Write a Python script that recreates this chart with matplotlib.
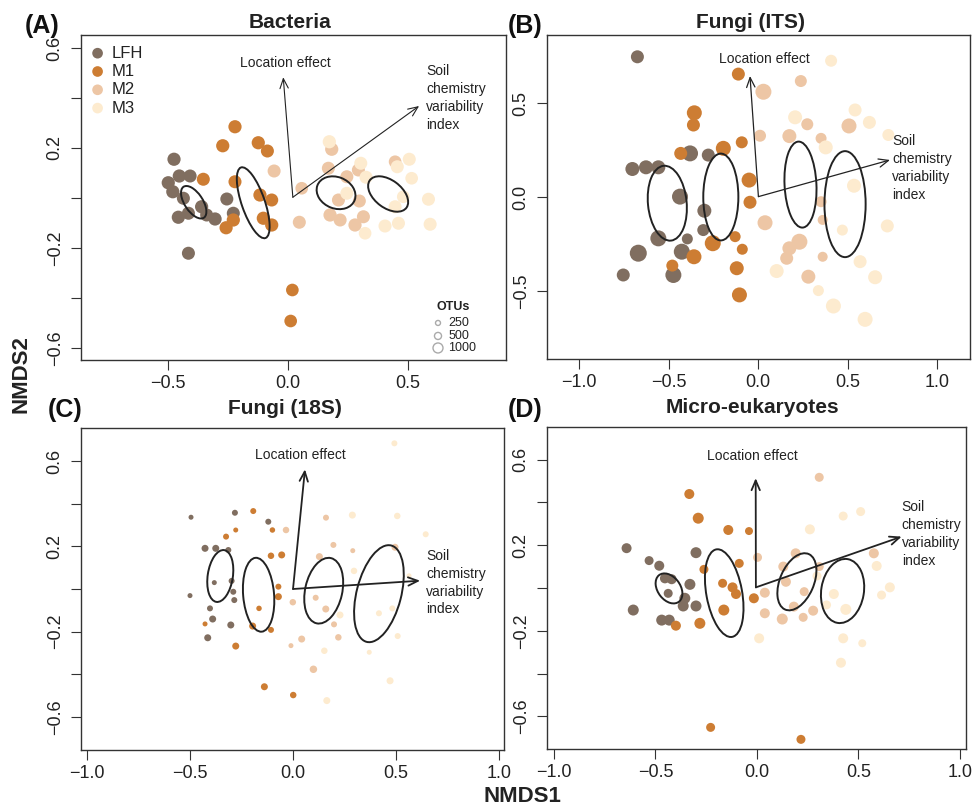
import matplotlib
matplotlib.use("Agg")
import matplotlib.pyplot as plt
from matplotlib.patches import Ellipse
import numpy as np

plt.rcParams['font.family'] = ['Liberation Sans', 'DejaVu Sans']

GROUPS = ["LFH", "M1", "M2", "M3"]
COLORS = ["#806e60", "#cd7d33", "#edc6a5", "#fdebcf"]

# samples: (NMDS1, NMDS2, OTU richness)
BAC_LFH = [(-0.475, 0.155, 1750), (-0.453, 0.088, 1750), (-0.408, 0.088, 1700), (-0.499, 0.061, 1750),
           (-0.480, 0.025, 1750), (-0.436, -0.001, 1700), (-0.360, -0.035, 1750), (-0.457, -0.077, 1750),
           (-0.415, -0.061, 1700), (-0.339, -0.068, 1700), (-0.304, -0.084, 1750), (-0.255, -0.004, 1700),
           (-0.228, -0.061, 1700), (-0.415, -0.221, 1700)]
BAC_M1 = [(-0.221, 0.285, 1750), (-0.272, 0.209, 1750), (-0.124, 0.221, 1750), (-0.086, 0.188, 1700),
          (-0.353, 0.075, 1700), (-0.221, 0.065, 1700), (-0.117, 0.012, 1750), (-0.068, -0.008, 1700),
          (-0.228, -0.088, 1750), (-0.258, -0.119, 1750), (-0.103, -0.081, 1750), (-0.068, -0.108, 1750),
          (0.018, -0.368, 1600), (0.011, -0.492, 1600)]
BAC_M2 = [(-0.058, 0.108, 1700), (0.057, 0.039, 1600), (0.047, -0.097, 1700), (0.182, 0.195, 1750),
          (0.168, 0.119, 1700), (0.245, 0.085, 1700), (0.293, 0.112, 1700), (0.210, -0.008, 1700),
          (0.175, -0.068, 1750), (0.217, -0.088, 1700), (0.297, -0.012, 1700), (0.314, -0.075, 1700),
          (0.279, -0.108, 1750), (0.446, 0.145, 1600)]
BAC_M3 = [(0.172, 0.225, 1750), (0.303, 0.139, 1700), (0.245, 0.019, 1700), (0.325, 0.083, 1700),
          (0.321, -0.141, 1600), (0.404, -0.112, 1700), (0.455, 0.125, 1700), (0.505, 0.155, 1700),
          (0.515, 0.079, 1600), (0.446, -0.035, 1700), (0.460, -0.101, 1700), (0.480, 0.005, 1600),
          (0.585, -0.005, 1700), (0.592, -0.105, 1700)]

FITS_LFH = [(-0.674, 0.746, 1690), (-0.702, 0.149, 1960), (-0.626, 0.158, 1960), (-0.557, 0.158, 1960),
            (-0.380, 0.232, 2560), (-0.278, 0.223, 1690), (-0.436, 0.002, 2560), (-0.300, -0.073, 1960),
            (-0.306, -0.176, 1440), (-0.557, -0.220, 2560), (-0.395, -0.223, 1210), (-0.426, -0.291, 2560),
            (-0.669, -0.299, 2890), (-0.753, -0.415, 1690), (-0.473, -0.415, 2560)]
FITS_M1 = [(-0.110, 0.654, 1690), (-0.356, 0.448, 2250), (-0.361, 0.383, 1690), (-0.432, 0.232, 1690),
           (-0.194, 0.259, 2250), (-0.091, 0.291, 1440), (-0.050, 0.090, 2250), (-0.045, -0.028, 1690),
           (-0.253, -0.246, 2560), (-0.128, -0.211, 1210), (-0.088, -0.278, 1210), (-0.358, -0.318, 2250),
           (-0.479, -0.365, 1440), (-0.119, -0.379, 1960), (-0.104, -0.521, 2250)]
FITS_M2 = [(0.030, 0.560, 2560), (0.239, 0.617, 1440), (0.011, 0.326, 1440), (0.175, 0.324, 1960),
           (0.275, 0.387, 1440), (0.352, 0.312, 1210), (0.508, 0.378, 2250), (0.039, -0.137, 2250),
           (0.231, -0.238, 2560), (0.175, -0.273, 1960), (0.160, -0.326, 1690), (0.281, -0.424, 1960),
           (0.361, -0.318, 1000), (0.352, -0.025, 1210), (0.361, -0.122, 1000)]
FITS_M3 = [(0.408, 0.725, 1440), (0.207, 0.424, 1960), (0.542, 0.463, 1690), (0.622, 0.397, 1690),
           (0.728, 0.330, 1440), (0.378, 0.264, 1960), (0.536, 0.060, 1960), (0.471, -0.176, 1210),
           (0.722, -0.154, 1690), (0.570, -0.344, 1690), (0.654, -0.427, 1960), (0.337, -0.498, 1210),
           (0.421, -0.580, 2250), (0.598, -0.651, 2250), (0.104, -0.394, 1960)]

F18_LFH = [(-0.495, 0.337, 250), (-0.282, 0.358, 360), (-0.120, 0.316, 360), (-0.427, 0.191, 490),
           (-0.375, 0.191, 490), (-0.314, 0.183, 360), (-0.382, 0.030, 250), (-0.298, 0.038, 360),
           (-0.290, -0.013, 360), (-0.285, -0.052, 360), (-0.500, -0.031, 250), (-0.403, -0.091, 360),
           (-0.390, -0.141, 490), (-0.302, -0.169, 490), (-0.414, -0.229, 490)]
F18_M1 = [(-0.193, 0.366, 360), (-0.278, 0.277, 250), (-0.325, 0.246, 360), (-0.100, 0.277, 300),
          (-0.107, 0.156, 420), (-0.055, 0.160, 490), (-0.071, 0.011, 360), (-0.071, -0.036, 490),
          (-0.165, -0.091, 300), (-0.427, -0.164, 250), (-0.196, -0.174, 490), (-0.107, -0.192, 360),
          (-0.278, -0.268, 490), (-0.139, -0.459, 490), (0.001, -0.498, 420)]
F18_M2 = [(-0.034, 0.277, 420), (0.160, 0.335, 360), (0.196, 0.207, 360), (0.290, 0.180, 250),
          (0.128, 0.152, 490), (0.495, 0.196, 490), (-0.001, -0.062, 420), (0.110, -0.041, 360),
          (0.159, -0.094, 490), (0.199, -0.166, 360), (0.220, -0.227, 420), (0.042, -0.235, 490),
          (-0.010, -0.266, 250), (0.099, -0.377, 560)]
F18_M3 = [(0.492, 0.684, 360), (0.288, 0.347, 490), (0.506, 0.343, 420), (0.644, 0.257, 360),
          (0.296, 0.085, 420), (0.563, 0.062, 250), (0.228, -0.122, 490), (0.417, -0.114, 360),
          (0.482, -0.091, 360), (0.508, -0.221, 360), (0.152, -0.290, 420), (0.370, -0.297, 250),
          (0.471, -0.431, 490), (0.164, -0.524, 490)]

EUK_LFH = [(-0.642, 0.186, 1000), (-0.531, 0.128, 810), (-0.481, 0.104, 1000), (-0.300, 0.165, 1210),
           (-0.453, 0.045, 1000), (-0.420, 0.041, 1000), (-0.437, -0.025, 810), (-0.330, 0.017, 1210),
           (-0.355, -0.048, 1210), (-0.363, -0.084, 1210), (-0.300, -0.084, 1210), (-0.609, -0.103, 1210),
           (-0.469, -0.150, 1210), (-0.432, -0.150, 1210)]
EUK_M1 = [(-0.333, 0.439, 1000), (-0.289, 0.326, 1210), (-0.141, 0.271, 1000), (-0.039, 0.266, 640),
          (-0.261, 0.087, 810), (-0.087, 0.115, 810), (-0.169, 0.022, 810), (-0.120, 0.003, 1000),
          (-0.103, -0.028, 1000), (-0.015, -0.048, 1000), (-0.163, -0.103, 1210), (-0.281, -0.165, 1210),
          (-0.399, -0.176, 1000), (-0.228, -0.651, 810), (0.217, -0.707, 810)]
EUK_M2 = [(0.307, 0.517, 810), (0.576, 0.162, 1000), (0.003, 0.143, 810), (0.191, 0.162, 1000),
          (0.130, 0.100, 1000), (0.307, 0.100, 810), (0.143, 0.029, 1000), (0.039, -0.022, 1000),
          (0.233, -0.017, 810), (0.182, -0.087, 1000), (0.277, -0.106, 1000), (0.039, -0.118, 1000),
          (0.125, -0.145, 1210), (0.228, -0.137, 810)]
EUK_M3 = [(0.425, 0.336, 810), (0.511, 0.357, 810), (0.261, 0.274, 1000), (0.590, 0.103, 1000),
          (0.655, 0.003, 1000), (0.614, -0.033, 810), (0.379, -0.028, 1000), (0.343, -0.079, 810),
          (0.438, -0.100, 1210), (0.011, -0.235, 1000), (0.425, -0.235, 1000), (0.519, -0.258, 640),
          (0.414, -0.349, 1000), (0.296, 0.056, 810)]

# group ellipses: (centre x, centre y, semi-major, semi-minor, angle deg)
BAC_ELLIPSES = [(-0.393, -0.017, 0.075, 0.0375, -55), (-0.145, -0.019, 0.150, 0.048, 110),
                (0.200, 0.021, 0.083, 0.063, -20), (0.417, 0.016, 0.094, 0.056, -35)]
FITS_ELLIPSES = [(-0.507, -0.033, 0.200, 0.108, 96), (-0.208, 0.000, 0.231, 0.098, 90),
                 (0.237, 0.066, 0.229, 0.089, 93), (0.486, -0.038, 0.282, 0.115, 90)]
F18_ELLIPSES = [(-0.353, 0.061, 0.123, 0.061, 81), (-0.167, -0.027, 0.174, 0.075, 95),
                (0.149, -0.008, 0.157, 0.090, 77), (0.417, -0.022, 0.234, 0.108, 75)]
EUK_ELLIPSES = [(-0.433, -0.002, 0.079, 0.055, -50), (-0.161, -0.024, 0.208, 0.088, 101),
                (0.197, 0.029, 0.142, 0.083, 65), (0.422, -0.014, 0.151, 0.105, 80)]

# fitted vectors: origin, location effect tip, soil chemistry tip
BAC_ARROWS = [(0.020, 0.003), (-0.020, 0.483), (0.546, 0.368)]
FITS_ARROWS = [(0.002, 0.002), (-0.045, 0.644), (0.737, 0.197)]
F18_ARROWS = [(0.000, 0.000), (0.058, 0.562), (0.617, 0.039)]
EUK_ARROWS = [(-0.005, 0.003), (-0.006, 0.513), (0.713, 0.240)]

OTU_LEGEND = [250, 500, 1000]

W, H = 975, 806
INK = "#333333"


def otu_size(otu):
    return 0.0518 * np.asarray(otu, dtype=float)


def px_axes(fig, l, t, r, b):
    return fig.add_axes([l / W, 1 - b / H, (r - l) / W, (b - t) / H])


def draw_panel(ax, samples, ellipses, arrows, xlim, ylim, xticks, yticks, ylab,
               loc_pos, soil_pos, arrow_lw):
    for pts, col in zip(samples, COLORS):
        pts = np.array(pts)
        ax.scatter(pts[:, 0], pts[:, 1], s=otu_size(pts[:, 2]), c=col,
                   edgecolors='none', zorder=2)
    for cx, cy, a, b, ang in ellipses:
        ax.add_patch(Ellipse((cx, cy), 2 * a, 2 * b, angle=ang, fill=False,
                             lw=1.4, ec="#222222", zorder=3))
    o, loc, soil = arrows
    for tip in (loc, soil):
        ax.annotate('', xy=tip, xytext=o,
                    arrowprops=dict(arrowstyle='->,head_length=0.7,head_width=0.3',
                                    lw=arrow_lw, color="#222222", shrinkA=0, shrinkB=0),
                    zorder=4)
    ax.text(loc_pos[0], loc_pos[1], "Location effect", ha='center', va='center',
            fontsize=10, color="#222222")
    ax.text(soil_pos[0], soil_pos[1], "Soil\nchemistry\nvariability\nindex", ha='left',
            va='center', fontsize=10, color="#222222", linespacing=1.35)

    ax.set_xlim(*xlim)
    ax.set_ylim(*ylim)
    ax.set_xticks(xticks)
    ax.set_xticklabels([f"{v:.1f}".replace('-', '\u2212') for v in xticks])
    ax.set_yticks(yticks)
    ax.set_yticklabels([f"{v:.1f}".replace('-', '\u2212') if round(v, 2) in ylab else ''
                        for v in yticks], rotation=90, va='center')
    ax.tick_params(axis='both', length=7.5, width=0.8, color=INK, labelcolor="#222222",
                   labelsize=13)
    ax.tick_params(axis='x', pad=3)
    ax.tick_params(axis='y', pad=5)
    for sp in ax.spines.values():
        sp.set_color(INK)
        sp.set_linewidth(1.0)


fig = plt.figure(figsize=(W / 100, H / 100), dpi=100)

axA = px_axes(fig, 81, 35, 506, 360)
draw_panel(axA, [BAC_LFH, BAC_M1, BAC_M2, BAC_M3], BAC_ELLIPSES, BAC_ARROWS,
           (-0.8625, 0.908), (-0.648, 0.652), [-0.5, 0.0, 0.5],
           np.round(np.arange(-0.6, 0.61, 0.2), 2), [0.6, 0.2, -0.2, -0.6],
           (-0.012, 0.539), (0.575, 0.401), 0.8)

axB = px_axes(fig, 547, 35, 970, 359)
draw_panel(axB, [FITS_LFH, FITS_M1, FITS_M2, FITS_M3], FITS_ELLIPSES, FITS_ARROWS,
           (-1.179, 1.184), (-0.862, 0.862), [-1.0, -0.5, 0.0, 0.5, 1.0],
           [-0.5, 0.0, 0.5], [-0.5, 0.0, 0.5],
           (0.035, 0.732), (0.75, 0.153), 0.9)

axC = px_axes(fig, 81, 428, 504, 750)
draw_panel(axC, [F18_LFH, F18_M1, F18_M2, F18_M3], F18_ELLIPSES, F18_ARROWS,
           (-1.029, 1.024), (-0.756, 0.756), [-1.0, -0.5, 0.0, 0.5, 1.0],
           np.round(np.arange(-0.6, 0.61, 0.2), 2), [0.6, 0.2, -0.2, -0.6],
           (0.034, 0.629), (0.646, 0.030), 1.3)

axD = px_axes(fig, 547, 427, 966, 749)
draw_panel(axD, [EUK_LFH, EUK_M1, EUK_M2, EUK_M3], EUK_ELLIPSES, EUK_ARROWS,
           (-1.034, 1.030), (-0.752, 0.752), [-1.0, -0.5, 0.0, 0.5, 1.0],
           np.round(np.arange(-0.6, 0.61, 0.2), 2), [0.6, 0.2, -0.2, -0.6],
           (-0.021, 0.617), (0.713, 0.251), 1.3)

# group legend (panel A)
for i, (g, col) in enumerate(zip(GROUPS, COLORS)):
    yy = 0.944 - i * 0.0563
    axA.scatter([0.039], [yy], s=59, c=col, edgecolors='none', transform=axA.transAxes,
                clip_on=False, zorder=5)
    axA.text(0.073, yy, g, transform=axA.transAxes, ha='left', va='center', fontsize=12,
             color="#222222")

# OTU size legend (panel A)
axA.text(0.875, 0.163, "OTUs", transform=axA.transAxes, ha='center', va='center',
         fontsize=9, fontweight='bold', color="#222222")
for v, yy in zip(OTU_LEGEND, [0.114, 0.074, 0.037]):
    axA.scatter([0.84], [yy], s=otu_size(v), facecolors='none', edgecolors='#aaaaaa',
                linewidths=1.0, transform=axA.transAxes, zorder=5)
    axA.text(0.864, yy, str(v), transform=axA.transAxes, ha='left', va='center',
             fontsize=9, color="#222222")

# titles and panel letters
for (x, y, t) in [(290, 22, "Bacteria"), (750, 22, "Fungi (ITS)"),
                  (285, 408, "Fungi (18S)"), (752, 407, "Micro-eukaryotes")]:
    fig.text(x / W, 1 - y / H, t, ha='center', va='center', fontsize=15,
             fontweight='bold', color="#222222")
for (x, y, t) in [(42, 26, "(A)"), (525, 26, "(B)"), (65, 410, "(C)"), (525, 410, "(D)")]:
    fig.text(x / W, 1 - y / H, t, ha='center', va='center', fontsize=18,
             fontweight='bold', color="#111111")

fig.text(21 / W, 1 - 374 / H, "NMDS2", rotation=90, ha='center', va='center',
         fontsize=16, fontweight='bold', color="#222222")
fig.text(522 / W, 1 - 796 / H, "NMDS1", ha='center', va='center',
         fontsize=16, fontweight='bold', color="#222222")

fig.savefig("out.png", dpi=100)
